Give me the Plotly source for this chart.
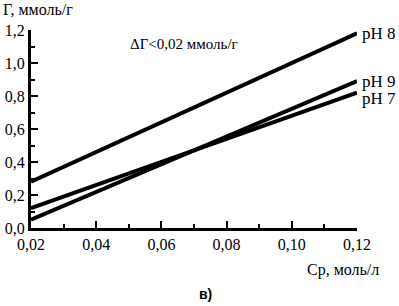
import plotly.graph_objects as go

cp = [0.02, 0.12]
ph7 = [0.12, 0.82]
ph8 = [0.28, 1.18]
ph9 = [0.05, 0.89]
series = [("pH 8", ph8, 0), ("pH 9", ph9, 0), ("pH 7", ph7, -6)]

xticks = [0.02, 0.04, 0.06, 0.08, 0.10, 0.12]
xticktext = ["0,02", "0,04", "0,06", "0,08", "0,10", "0,12"]
yticks = [0.0, 0.2, 0.4, 0.6, 0.8, 1.0, 1.2]
yticktext = ["0,0", "0,2", "0,4", "0,6", "0,8", "1,0", "1,2"]

SERIF = "Liberation Serif"

W, H = 399, 306
L, R, T, B = 31, 42, 30, 78
pw, ph = W - L - R, H - T - B

def px(x):
    return (x - L) / pw

def py(y):
    return (H - B - y) / ph

fig = go.Figure()
annotations = []
for name, vals, ys in series:
    fig.add_trace(go.Scatter(x=cp, y=vals, mode="lines",
                             line=dict(color="black", width=4),
                             showlegend=False, cliponaxis=False))
    annotations.append(dict(x=cp[-1], y=vals[-1], xref="x", yref="y",
                            text=name, showarrow=False, xanchor="left",
                            xshift=3, yshift=ys,
                            font=dict(family=SERIF, size=17, color="black")))

annotations += [
    dict(x=px(1), y=py(9), xref="paper", yref="paper", text="Г, ммоль/г",
         showarrow=False, xanchor="left", yanchor="middle",
         font=dict(family=SERIF, size=16, color="black")),
    dict(x=px(128), y=py(44), xref="paper", yref="paper", text="ΔΓ<0,02 ммоль/г",
         showarrow=False, xanchor="left", yanchor="middle",
         font=dict(family=SERIF, size=15, color="black")),
    dict(x=px(381), y=py(270), xref="paper", yref="paper", text="Ср, моль/л",
         showarrow=False, xanchor="right", yanchor="middle",
         font=dict(family=SERIF, size=16, color="black")),
    dict(x=px(205), y=py(294), xref="paper", yref="paper", text="<b>в)</b>",
         showarrow=False, xanchor="center", yanchor="middle",
         font=dict(family="Liberation Sans", size=14, color="black")),
]

fig.update_layout(
    width=W, height=H,
    margin=dict(l=L, r=R, t=T, b=B, autoexpand=False),
    paper_bgcolor="white", plot_bgcolor="white",
    annotations=annotations,
    font=dict(family=SERIF, size=16, color="black"),
)
fig.update_xaxes(range=[0.02, 0.12], showgrid=False, zeroline=False,
                 automargin=False,
                 showline=True, linecolor="black", linewidth=3,
                 tickmode="array", tickvals=xticks, ticktext=xticktext,
                 ticks="inside", ticklen=7, tickwidth=2, tickcolor="black",
                 minor=dict(ticks="inside", ticklen=4, tickwidth=1.5,
                            tickcolor="black", dtick=0.01, tick0=0.02),
                 tickfont=dict(family=SERIF, size=16, color="black"))
fig.update_yaxes(range=[0, 1.2], showgrid=False, zeroline=False,
                 automargin=False,
                 showline=True, linecolor="black", linewidth=3,
                 tickmode="array", tickvals=yticks, ticktext=yticktext,
                 ticks="inside", ticklen=7, tickwidth=2, tickcolor="black",
                 minor=dict(ticks="inside", ticklen=4, tickwidth=1.5,
                            tickcolor="black", dtick=0.1, tick0=0),
                 tickfont=dict(family=SERIF, size=16, color="black"))

fig.write_html("out.html", config={"displayModeBar": False},
               post_script="document.body.style.margin='0';document.body.style.overflow='hidden';")
